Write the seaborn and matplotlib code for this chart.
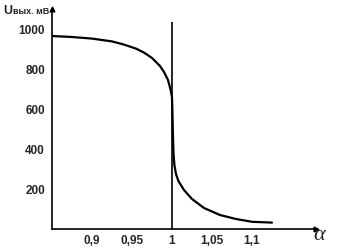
import matplotlib
matplotlib.use("Agg")
import matplotlib.pyplot as plt
import seaborn as sns
import pandas as pd

alpha = [0.85, 0.875, 0.90, 0.925, 0.94, 0.955, 0.965, 0.975, 0.985, 0.99, 0.995,
         0.998, 1.0, 1.0005, 1.001, 1.0015, 1.002, 1.003, 1.005, 1.008, 1.015, 1.025,
         1.04, 1.06, 1.08, 1.10, 1.125]
u_out = [965, 960, 952, 938, 922, 902, 882, 855, 815, 785, 745,
         700, 660, 590, 500, 420, 370, 320, 275, 240, 195, 150,
         105, 70, 50, 36, 32]
x_ticks = [0.9, 0.95, 1.0, 1.05, 1.1, 1.15]
x_tick_labels = ["0,9", "0,95", "1", "1,05", "1,1", ""]
y_ticks = [200, 400, 600, 800, 1000]
y_tick_labels = ["200", "400", "600", "800", "1000"]

sns.set_style("white")
plt.rcParams['font.family'] = ['Liberation Sans', 'DejaVu Sans']

W, H = 347, 248
fig = plt.figure(figsize=(W / 100, H / 100), dpi=100)
ax = fig.add_axes([52 / W, (H - 229) / H, 264 / W, 220 / H])

df = pd.DataFrame({"alpha": alpha, "U": u_out})
sns.lineplot(data=df, x="alpha", y="U", color="black", linewidth=1.6, ax=ax, sort=False)
ax.vlines(1.0, 0, 1035, color="black", linewidth=1.2)

ax.set_xlim(0.85, 1.18)
ax.set_ylim(0, 1100)
ax.set_xticks(x_ticks)
ax.set_xticklabels(x_tick_labels, fontsize=8.5, fontweight="bold")
ax.set_yticks(y_ticks)
ax.set_yticklabels(y_tick_labels, fontsize=8.5, fontweight="bold")
ax.tick_params(axis="both", direction="in", length=4, width=1.0, color="black")
ax.tick_params(axis="x", pad=4)
ax.tick_params(axis="y", pad=5)
ax.set_xlabel("")
ax.set_ylabel("")

for s in ["top", "right"]:
    ax.spines[s].set_visible(False)
for s in ["left", "bottom"]:
    ax.spines[s].set_color("black")
    ax.spines[s].set_linewidth(1.2)

ax.plot(1, 0, marker=">", color="black", markersize=3.5, transform=ax.transAxes, clip_on=False)
ax.plot(0, 1, marker="^", color="black", markersize=3.5, transform=ax.transAxes, clip_on=False)

fig.text(3 / W, 1 - 14 / H, "U", fontsize=9, fontweight="bold", va="baseline", ha="left")
fig.text(13 / W, 1 - 14 / H, "вых. мВ", fontsize=6.5, fontweight="bold", va="baseline", ha="left")
fig.text(319 / W, 1 - 236 / H, "α", fontsize=16, family=["Liberation Serif"], style="italic",
         va="center", ha="center")

fig.savefig("out.png", dpi=100, facecolor="white")
